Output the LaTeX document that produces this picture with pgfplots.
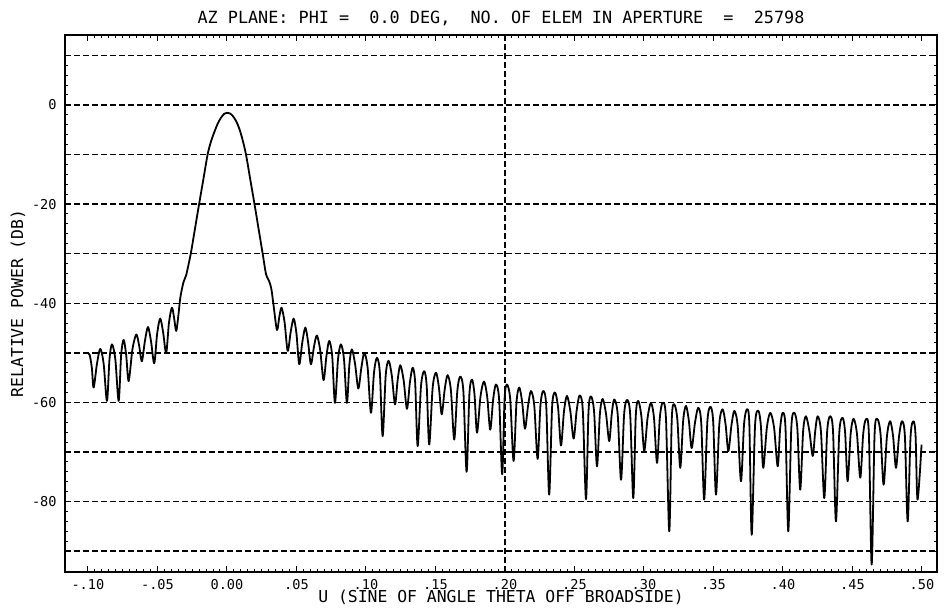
\documentclass[border=0pt]{standalone}
\usepackage{pgfplots}
\pgfplotsset{compat=1.18}
\usepackage{fontspec}
\setmainfont{DejaVu Sans Mono}
\begin{document}
\begin{tikzpicture}
\begin{axis}[
  at={(0pt,0pt)}, anchor=south west,
  scale only axis,
  width=436pt, height=268.5pt,
  xmin=-0.1165, xmax=0.5108,
  ymin=-94.2, ymax=14.1,
  xtick={-0.1,-0.05,0,0.05,0.1,0.15,0.2,0.25,0.3,0.35,0.4,0.45,0.5},
  xticklabels={-.10,-.05,0.00,.05,.10,.15,.20,.25,.30,.35,.40,.45,.50},
  minor x tick num=9,
  ytick={-90,-80,-70,-60,-50,-40,-30,-20,-10,0,10},
  yticklabels={,-80,,-60,,-40,,-20,,0,},
  minor y tick num=4,
  ymajorgrids,
  grid style={black, line width=0.7pt, dash pattern=on 3pt off 1.5pt},
  extra x ticks={0.2},
  extra x tick labels={},
  extra x tick style={xmajorgrids=true, major tick length=0pt},
  tick align=inside,
  tick pos=both,
  major tick length=3pt, minor tick length=1.6pt,
  every tick/.style={black, line width=0.5pt},
  axis line style={black, line width=0.9pt},
  tick label style={font=\fontsize{6.8}{7.5}\selectfont},
  xticklabel style={anchor=base, yshift=-8.8pt},
  yticklabel style={anchor=east, inner sep=0pt, xshift=-4pt},
  title={AZ PLANE: PHI =~~0.0 DEG,~~NO. OF ELEM IN APERTURE~~=~~25798},
  title style={font=\fontsize{8.4}{9}\selectfont, at={(0.5,1)}, anchor=base, yshift=-0.5pt},
  xlabel={U (SINE OF ANGLE THETA OFF BROADSIDE)},
  xlabel style={font=\fontsize{8.2}{9}\selectfont, at={(axis description cs:0.5,0)}, anchor=base, yshift=-15.5pt},
  ylabel={RELATIVE POWER (DB)},
  ylabel style={font=\fontsize{8.2}{9}\selectfont, at={(axis description cs:-0.054,0.5)}, anchor=center},
]
\addplot[black, line width=0.9pt, line join=round, smooth, tension=0.5] coordinates {
(-0.1005,-50.0) (-0.0988,-50.4) (-0.0972,-53.0) (-0.0959,-57.0)
(-0.0935,-52.2) (-0.0911,-49.2) (-0.0887,-52.2) (-0.0863,-59.7)
(-0.0845,-51.3) (-0.0827,-48.3) (-0.0803,-51.3) (-0.0779,-59.7)
(-0.0761,-50.4) (-0.0743,-47.4) (-0.0725,-50.4) (-0.0707,-55.7)
(-0.0680,-49.3) (-0.0652,-46.3) (-0.0632,-48.5) (-0.0612,-51.7)
(-0.0590,-47.6) (-0.0568,-44.8) (-0.0546,-47.7) (-0.0523,-52.1)
(-0.0502,-46.1) (-0.0480,-43.1) (-0.0459,-45.9) (-0.0437,-50.0)
(-0.0417,-43.9) (-0.0396,-40.9) (-0.0381,-42.8) (-0.0365,-45.6)
(-0.0350,-42.6) (-0.0335,-38.8) (-0.0313,-35.8) (-0.0293,-34.3) (-0.0259,-29.8)
(-0.0229,-24.8) (-0.0199,-19.8) (-0.0169,-14.9) (-0.0139,-10.0) (-0.0115,-7.4)
(-0.0091,-5.5) (-0.0065,-3.7) (-0.0043,-2.6) (-0.0020,-1.8) (0.0000,-1.6)
(0.0020,-1.7) (0.0041,-2.2) (0.0065,-3.2) (0.0089,-4.8) (0.0113,-7.1)
(0.0137,-10.0) (0.0167,-14.9) (0.0197,-19.8) (0.0227,-24.9) (0.0257,-30.0)
(0.0281,-34.1) (0.0303,-35.5) (0.0320,-37.2) (0.0337,-40.8) (0.0360,-45.4)
(0.0377,-42.7) (0.0393,-40.9) (0.0415,-43.9) (0.0437,-49.6)
(0.0459,-45.7) (0.0480,-43.1) (0.0500,-46.1) (0.0520,-52.3)
(0.0542,-47.9) (0.0564,-44.9) (0.0584,-47.9) (0.0604,-52.3)
(0.0626,-48.8) (0.0647,-46.5) (0.0671,-49.5) (0.0695,-55.5)
(0.0716,-50.6) (0.0736,-47.6) (0.0757,-50.6) (0.0777,-60.1)
(0.0799,-51.3) (0.0820,-48.3) (0.0842,-51.3) (0.0863,-60.1)
(0.0881,-52.3) (0.0899,-49.3) (0.0922,-52.3) (0.0945,-57.2)
(0.0967,-53.0) (0.0988,-50.0) (0.1012,-53.0) (0.1036,-62.1)
(0.1058,-54.0) (0.1079,-51.0) (0.1100,-54.0) (0.1120,-66.8)
(0.1142,-54.6) (0.1163,-51.6) (0.1186,-54.6) (0.1209,-60.4)
(0.1228,-55.5) (0.1247,-52.5) (0.1271,-55.5) (0.1295,-61.3)
(0.1316,-56.0) (0.1336,-53.0) (0.1354,-56.0) (0.1372,-68.8)
(0.1396,-56.7) (0.1419,-53.7) (0.1437,-56.7) (0.1455,-68.5)
(0.1480,-57.0) (0.1504,-54.0) (0.1525,-57.0) (0.1545,-62.4)
(0.1566,-57.5) (0.1587,-54.5) (0.1611,-57.5) (0.1635,-67.5)
(0.1657,-57.8) (0.1678,-54.8) (0.1701,-57.8) (0.1724,-74.0)
(0.1744,-58.4) (0.1763,-55.4) (0.1781,-58.4) (0.1799,-66.1)
(0.1824,-58.8) (0.1849,-55.8) (0.1872,-58.8) (0.1894,-65.5)
(0.1915,-59.4) (0.1935,-56.4) (0.1958,-59.4) (0.1980,-74.5)
(0.1997,-59.4) (0.2014,-56.4) (0.2038,-59.4) (0.2062,-71.8)
(0.2083,-60.0) (0.2103,-57.0) (0.2124,-60.0) (0.2144,-65.3)
(0.2166,-60.7) (0.2187,-57.7) (0.2211,-60.7) (0.2235,-71.4)
(0.2255,-60.7) (0.2275,-57.7) (0.2297,-60.7) (0.2318,-78.6)
(0.2339,-61.0) (0.2360,-58.0) (0.2382,-61.0) (0.2403,-68.7)
(0.2425,-61.7) (0.2446,-58.7) (0.2470,-61.7) (0.2494,-67.3)
(0.2516,-61.6) (0.2537,-58.6) (0.2560,-61.6) (0.2583,-79.5)
(0.2601,-61.8) (0.2619,-58.8) (0.2641,-61.8) (0.2662,-72.9)
(0.2683,-62.3) (0.2703,-59.3) (0.2727,-62.3) (0.2750,-67.8)
(0.2768,-62.4) (0.2786,-59.4) (0.2811,-62.4) (0.2835,-75.6)
(0.2857,-62.5) (0.2878,-59.5) (0.2901,-62.5) (0.2923,-79.3)
(0.2941,-62.7) (0.2959,-59.7) (0.2981,-62.7) (0.3002,-69.8)
(0.3026,-63.1) (0.3050,-60.1) (0.3072,-63.1) (0.3094,-72.2)
(0.3114,-63.1) (0.3134,-60.1) (0.3158,-63.1) (0.3182,-86.0)
(0.3200,-63.4) (0.3218,-60.4) (0.3240,-63.4) (0.3261,-73.2)
(0.3282,-63.7) (0.3302,-60.7) (0.3323,-63.7) (0.3343,-69.2)
(0.3367,-64.1) (0.3390,-61.1) (0.3412,-64.1) (0.3433,-79.6)
(0.3456,-63.9) (0.3478,-60.9) (0.3498,-63.9) (0.3518,-78.6)
(0.3542,-64.4) (0.3566,-61.4) (0.3587,-64.4) (0.3607,-69.8)
(0.3629,-64.7) (0.3650,-61.7) (0.3674,-64.7) (0.3698,-75.9)
(0.3720,-64.4) (0.3741,-61.4) (0.3758,-64.4) (0.3775,-86.7)
(0.3799,-64.7) (0.3823,-61.7) (0.3841,-64.7) (0.3858,-73.2)
(0.3884,-65.1) (0.3909,-62.1) (0.3936,-65.1) (0.3962,-72.9)
(0.3980,-65.1) (0.3998,-62.1) (0.4018,-65.1) (0.4038,-86.0)
(0.4060,-65.1) (0.4081,-62.1) (0.4103,-65.1) (0.4124,-77.6)
(0.4145,-65.8) (0.4165,-62.8) (0.4190,-65.8) (0.4214,-70.8)
(0.4232,-65.8) (0.4249,-62.8) (0.4273,-65.8) (0.4297,-79.3)
(0.4318,-65.8) (0.4339,-62.8) (0.4360,-65.8) (0.4381,-84.0)
(0.4405,-66.1) (0.4429,-63.1) (0.4447,-66.1) (0.4465,-75.9)
(0.4487,-66.3) (0.4508,-63.3) (0.4532,-66.3) (0.4556,-75.2)
(0.4577,-66.4) (0.4597,-63.4) (0.4618,-66.4) (0.4638,-92.7)
(0.4659,-66.4) (0.4680,-63.4) (0.4702,-66.4) (0.4724,-76.6)
(0.4748,-66.8) (0.4771,-63.8) (0.4792,-66.8) (0.4813,-73.2)
(0.4835,-66.8) (0.4856,-63.8) (0.4877,-66.8) (0.4897,-84.0)
(0.4918,-66.8) (0.4939,-63.8) (0.4954,-66.8) (0.4968,-79.6)
(0.4997,-68.5)
};
\end{axis}
\pgfresetboundingbox
\path[use as bounding box] (-32.5pt,-18pt) rectangle (441.5pt,286pt);
\end{tikzpicture}
\end{document}
